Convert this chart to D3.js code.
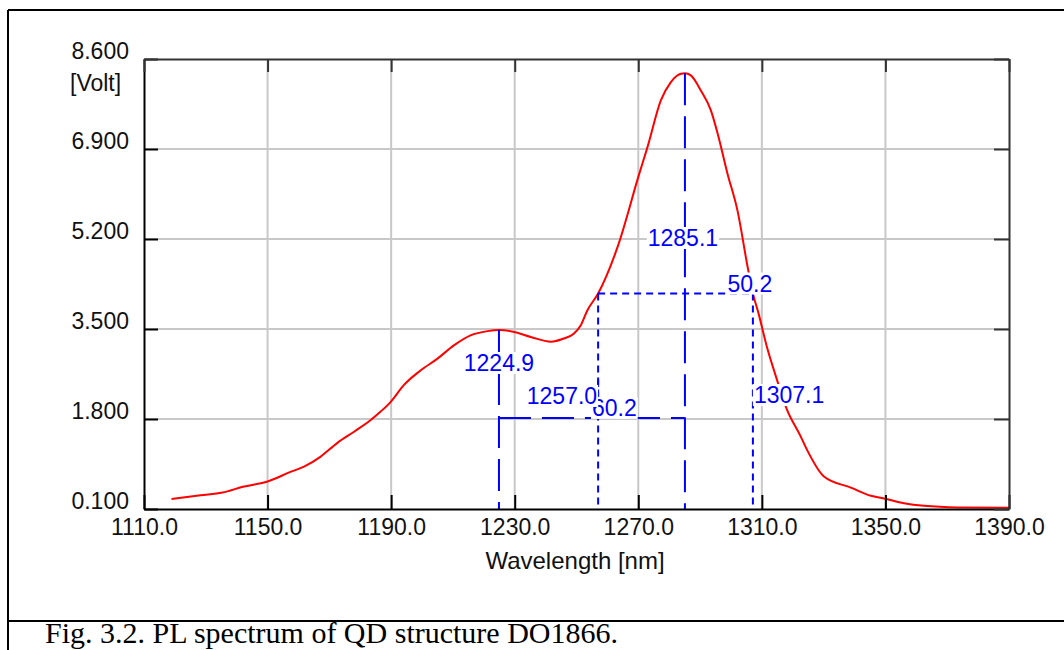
<!DOCTYPE html>
<html>
<head>
<meta charset="utf-8">
<script src="https://cdn.jsdelivr.net/npm/d3@7"></script>
<style>
  body { margin: 0; background: #fff; }
  text { font-family: "Liberation Sans", Arial, sans-serif; }
</style>
</head>
<body>
<div id="chart"></div>
<script>

var svgWidth = 1064;
var svgHeight = 650;

// plot box (inside the outer figure frame)
var plot = {
  left: 144,
  right: 1009,
  top: 59,
  bottom: 509
};

// PL spectrum
var wavelength = [1118.9, 1128.3, 1135.4, 1142.0, 1150.0, 1157.4, 1161.8, 1167.2, 1172.6, 1178.0,
  1183.4, 1186.6, 1189.8, 1194.1, 1199.6, 1205.0, 1210.3, 1215.7, 1221.2, 1224.9,
  1229.5, 1235.2, 1241.7, 1245.9, 1249.1, 1251.4, 1253.5, 1257.0, 1263.3, 1270.3,
  1273.0, 1277.3, 1280.5, 1283.8, 1285.1, 1287.0, 1290.3, 1293.5, 1295.7, 1298.9,
  1302.1, 1305.4, 1307.1, 1308.9, 1311.6, 1314.9, 1318.1, 1322.4, 1324.6, 1330.0,
  1339.0, 1345.3, 1349.5, 1356.0, 1362.5, 1373.4, 1390.0];
var volts = [0.29, 0.36, 0.41, 0.52, 0.62, 0.80, 0.90, 1.09, 1.35, 1.56,
  1.78, 1.94, 2.12, 2.44, 2.72, 2.94, 3.19, 3.38, 3.46, 3.48,
  3.45, 3.35, 3.26, 3.32, 3.41, 3.57, 3.85, 4.17, 5.05, 6.43,
  6.94, 7.82, 8.16, 8.32, 8.33, 8.29, 8.00, 7.63, 7.19, 6.43,
  5.74, 4.67, 4.17, 3.80, 3.17, 2.54, 1.98, 1.49, 1.22, 0.72,
  0.50, 0.35, 0.30, 0.21, 0.16, 0.13, 0.125];

// ticks
var xTicks = [1110, 1150, 1190, 1230, 1270, 1310, 1350, 1390];
var yTicks = [0.1, 1.8, 3.5, 5.2, 6.9, 8.6];

// markers (peaks, FWHM)
var peakWl = [1224.9, 1285.1];
var peakV = [3.48, 8.33];
var fwhmWl = [1257.0, 1307.1];
var halfMax = 4.17;
var sepLevel = 1.82;
var markerLabels = ["1224.9", "1285.1", "60.2", "1257.0", "1307.1", "50.2"];

var svg = d3.select("#chart")
  .append("svg")
  .attr("width", svgWidth)
  .attr("height", svgHeight);

svg.append("rect")
  .attr("width", svgWidth)
  .attr("height", svgHeight)
  .attr("fill", "#fff");

var xScale = d3.scaleLinear()
  .domain([1110, 1390])
  .range([plot.left, plot.right]);

var yScale = d3.scaleLinear()
  .domain([0.1, 8.6])
  .range([plot.bottom, plot.top]);

// outer figure frame + caption separator
var frame = svg.append("g").attr("stroke", "#000").attr("stroke-width", 2);
frame.append("line").attr("x1", 8).attr("x2", svgWidth).attr("y1", 10).attr("y2", 10);
frame.append("line").attr("x1", 8).attr("x2", 8).attr("y1", 10).attr("y2", svgHeight);
frame.append("line").attr("x1", 8).attr("x2", svgWidth).attr("y1", 621).attr("y2", 621);

svg.append("text")
  .attr("x", 45)
  .attr("y", 643)
  .style("font-family", "'Liberation Serif', 'Times New Roman', serif")
  .style("font-size", "30px")
  .attr("fill", "#000")
  .text("Fig. 3.2. PL spectrum of QD structure DO1866.");

// gridlines (interior ticks only)
var grid = svg.append("g").attr("stroke", "#c8c8c8").attr("stroke-width", 2);
grid.selectAll(".vgrid")
  .data(xTicks.slice(1, -1))
  .enter()
  .append("line")
  .attr("x1", d => xScale(d))
  .attr("x2", d => xScale(d))
  .attr("y1", plot.top)
  .attr("y2", plot.bottom);
grid.selectAll(".hgrid")
  .data(yTicks.slice(1, -1))
  .enter()
  .append("line")
  .attr("x1", plot.left)
  .attr("x2", plot.right)
  .attr("y1", d => yScale(d))
  .attr("y2", d => yScale(d));

// spectrum
var spectrum = wavelength.map((w, i) => [w, volts[i]]);
var line = d3.line()
  .x(d => xScale(d[0]))
  .y(d => yScale(d[1]))
  .curve(d3.curveMonotoneX);

svg.append("path")
  .datum(spectrum)
  .attr("d", line)
  .attr("fill", "none")
  .attr("stroke", "#ff0000")
  .attr("stroke-width", 2);

// marker lines
var markers = svg.append("g")
  .attr("stroke", "#0000ff")
  .attr("stroke-width", 2)
  .attr("fill", "none");

function markerLine(x1, y1, x2, y2, dash) {
  markers.append("line")
    .attr("x1", x1).attr("y1", y1)
    .attr("x2", x2).attr("y2", y2)
    .attr("stroke-dasharray", dash);
}

var longDash = "32,11";
var dotDash = "7,5";

peakWl.forEach(function(w, i) {
  markerLine(xScale(w), yScale(peakV[i]), xScale(w), plot.bottom, longDash);
});
markerLine(xScale(peakWl[0]), yScale(sepLevel), xScale(peakWl[1]), yScale(sepLevel), longDash);

markerLine(xScale(fwhmWl[0]), yScale(halfMax), xScale(fwhmWl[1]), yScale(halfMax), dotDash);
fwhmWl.forEach(function(w) {
  markerLine(xScale(w), yScale(halfMax), xScale(w), plot.bottom, dotDash);
});

// marker labels on white boxes
var labels = svg.append("g");

function markerLabel(txt, x, y, anchor) {
  var g = labels.append("g");
  var t = g.append("text")
    .attr("x", x)
    .attr("y", y)
    .attr("text-anchor", anchor)
    .attr("fill", "#0000ff")
    .style("font-size", "23px")
    .text(txt);
  var box = t.node().getBBox();
  g.insert("rect", "text")
    .attr("x", box.x - 1)
    .attr("y", box.y + 2)
    .attr("width", box.width + 2)
    .attr("height", box.height - 4)
    .attr("fill", "#fff");
}

var midSep = (xScale(peakWl[0]) + xScale(peakWl[1])) / 2;

markerLabel(markerLabels[0], xScale(peakWl[0]), 371, "middle");
markerLabel(markerLabels[1], xScale(peakWl[1]) - 2, 246, "middle");
markerLabel(markerLabels[2], midSep, yScale(sepLevel) - 2, "start");
markerLabel(markerLabels[3], xScale(fwhmWl[0]) - 1, 404, "end");
markerLabel(markerLabels[4], xScale(fwhmWl[1]) + 1, 403, "start");
markerLabel(markerLabels[5], xScale(fwhmWl[1]) - 3, yScale(halfMax) - 2, "middle");

// the fwhm dotted line crosses the "1257.0" label end
markerLine(xScale(fwhmWl[0]), 380, xScale(fwhmWl[0]), 410, dotDash);

// axes
var bottomAxis = d3.axisBottom(xScale)
  .tickValues(xTicks)
  .tickFormat(d3.format(".1f"))
  .tickSizeInner(-14)
  .tickSizeOuter(0)
  .tickPadding(10);

var leftAxis = d3.axisLeft(yScale)
  .tickValues(yTicks)
  .tickFormat(d3.format(".3f"))
  .tickSizeInner(-14)
  .tickSizeOuter(0)
  .tickPadding(15);

var topAxis = d3.axisTop(xScale)
  .tickValues(xTicks)
  .tickFormat("")
  .tickSizeInner(-13)
  .tickSizeOuter(0);

var rightAxis = d3.axisRight(yScale)
  .tickValues(yTicks)
  .tickFormat("")
  .tickSizeInner(-15)
  .tickSizeOuter(0);

var xAxis = svg.append("g")
  .attr("transform", `translate(0, ${plot.bottom})`)
  .call(bottomAxis);

var yAxis = svg.append("g")
  .attr("transform", `translate(${plot.left}, 0)`)
  .call(leftAxis);

svg.append("g")
  .attr("transform", `translate(0, ${plot.top})`)
  .call(topAxis)
  .selectAll("path, line").attr("stroke", "#333");

svg.append("g")
  .attr("transform", `translate(${plot.right}, 0)`)
  .call(rightAxis)
  .selectAll("path, line").attr("stroke", "#333");

svg.selectAll(".domain, .tick line").attr("stroke-width", 2);

xAxis.selectAll("text")
  .style("font-size", "23px")
  .attr("fill", "#111");

yAxis.selectAll("text")
  .style("font-size", "23px")
  .attr("fill", "#111")
  .attr("dy", "-0.02em");

// axis titles
svg.append("text")
  .attr("x", 70)
  .attr("y", 91)
  .attr("fill", "#111")
  .style("font-size", "23px")
  .text("[Volt]");

svg.append("text")
  .attr("x", 575)
  .attr("y", 569)
  .attr("text-anchor", "middle")
  .attr("fill", "#111")
  .style("font-size", "24px")
  .text("Wavelength [nm]");

</script>
</body>
</html>
